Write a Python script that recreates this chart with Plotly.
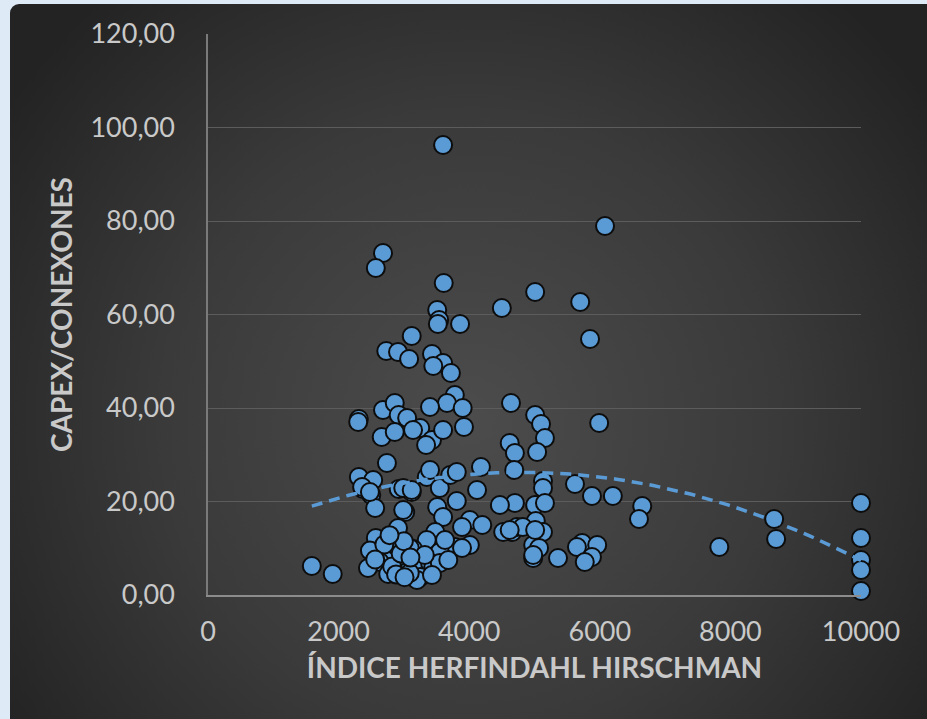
import base64

import numpy as np
import plotly.graph_objects as go

# Índice Herfindahl Hirschman (x) vs CAPEX/conexones (y)
ihh = [
    1590, 1910, 3600, 6080, 2680, 2570, 3610, 3510, 3540, 3520,
    3860, 3120, 2730, 2910, 3080, 3430, 3600, 3450, 3720, 3780,
    3660, 3900, 3400, 2680, 2860, 2920, 3050, 2310, 2660, 2860,
    3250, 3430, 3340, 3600, 3920, 2740, 2310, 2530, 2370, 2500,
    2560, 2920, 3120, 3350, 3400, 3550, 3710, 3810, 4180, 4120,
    3810, 3510, 3020, 2910, 2570, 3600, 4010, 4200, 3890, 3480,
    3350, 3780, 4010, 3890, 3140, 3090, 2790, 3550, 2630, 2450,
    2760, 2940, 3170, 3220, 3400, 3450, 3550, 3140, 3250, 3050,
    3200, 3430, 3090, 2990, 2990, 4500, 5010, 5700, 5850, 4640,
    5010, 5100, 5160, 4620, 4700, 5040, 5990, 4690, 5130, 5130,
    5620, 5880, 6200, 6650, 6600, 4700, 5010, 5160, 4470, 5020,
    5130, 4660, 4730, 4520, 4980, 5070, 4980, 5360, 5730, 5650,
    5960, 5880, 5770, 7830, 8670, 8700, 10000, 10000, 10000, 10000,
    10000, 4820, 5010, 4980, 3140, 2300, 2360, 2480, 3120, 4620,
    3320, 3630, 2860, 3680,
    # partly hidden points in the dense low cluster
    2480, 2700, 2820, 2880, 2950, 3000, 3010, 2560, 2780, 3100,
]
capex = [
    6.20, 4.49, 96.26, 78.93, 73.15, 69.95, 66.74, 60.96, 58.82, 57.97,
    57.97, 55.40, 52.19, 51.98, 50.48, 51.55, 49.62, 48.98, 47.49, 42.78,
    41.07, 40.00, 40.21, 39.57, 41.07, 38.50, 37.86, 37.65, 33.80, 34.87,
    35.72, 33.15, 32.09, 35.29, 35.94, 28.24, 25.24, 24.60, 22.67, 21.39,
    18.61, 22.67, 22.03, 25.24, 26.74, 22.89, 25.67, 26.31, 27.38, 22.46,
    20.11, 18.82, 17.75, 14.33, 12.19, 16.68, 16.04, 14.97, 14.55, 13.48,
    11.76, 10.27, 10.70, 10.05, 9.84, 10.05, 8.56, 9.20, 7.06, 5.78,
    4.49, 5.99, 7.06, 6.84, 6.84, 5.99, 6.84, 3.85, 3.85, 4.92,
    3.21, 4.28, 4.71, 22.89, 18.18, 61.39, 64.81, 62.67, 54.76, 41.07,
    38.50, 36.58, 33.58, 32.51, 30.37, 30.59, 36.79, 26.74, 24.38, 22.89,
    23.74, 21.18, 21.18, 19.04, 16.26, 19.68, 19.25, 19.68, 19.25, 15.83,
    13.48, 13.48, 14.55, 13.48, 10.70, 10.05, 7.91, 7.91, 11.12, 10.27,
    10.70, 8.13, 7.06, 10.27, 16.26, 11.98, 19.68, 12.19, 7.49, 5.35,
    0.86, 14.55, 13.90, 8.56, 35.29, 37.01, 23.10, 22.03, 22.46, 13.90,
    8.56, 11.76, 10.70, 7.49,
    9.50, 10.80, 6.10, 4.40, 8.90, 11.50, 3.80, 7.60, 12.80, 8.00,
]

x_ticks = [0, 2000, 4000, 6000, 8000, 10000]
y_ticks = [0, 20, 40, 60, 80, 100, 120]

W, H = 927, 719
L, R, T, B = 208, 66, 34, 124
pw, ph = W - L - R, H - T - B

BLUE = "#5b9bd5"
TXT = "#c9c9c9"

# dark panel with radial gradient, drawn as an svg behind everything
svg = f"""<svg xmlns="http://www.w3.org/2000/svg" width="{W}" height="{H}" viewBox="0 0 {W} {H}" preserveAspectRatio="none">
<defs><radialGradient id="g" gradientUnits="userSpaceOnUse" cx="470" cy="420" r="560">
<stop offset="0" stop-color="#4c4c4c"/><stop offset="0.55" stop-color="#3a3a3a"/><stop offset="1" stop-color="#232323"/>
</radialGradient></defs>
<rect x="10" y="4" width="{W + 20}" height="{H + 20}" rx="9" ry="9" fill="url(#g)"/>
</svg>"""
bg_src = "data:image/svg+xml;base64," + base64.b64encode(svg.encode()).decode()

# 2nd order polynomial trend line (like Excel's)
coef = np.polyfit(ihh, capex, 2)
tx = np.linspace(min(ihh), max(ihh), 120)
ty = np.polyval(coef, tx)

fig = go.Figure()
fig.add_trace(
    go.Scatter(
        x=ihh,
        y=capex,
        mode="markers",
        marker=dict(size=18, color=BLUE, line=dict(color="#0d0d0d", width=2)),
        cliponaxis=False,
        showlegend=False,
    )
)
fig.add_trace(
    go.Scatter(
        x=tx,
        y=ty,
        mode="lines",
        line=dict(color=BLUE, width=3.5, dash="11px,7px"),
        cliponaxis=False,
        showlegend=False,
    )
)

title_font = dict(family="Lato, Noto Sans, sans-serif", size=28, color=TXT, weight="bold")

fig.update_layout(
    width=W,
    height=H,
    autosize=False,
    margin=dict(l=L, r=R, t=T, b=B, pad=0),
    paper_bgcolor="#dfeaf7",
    plot_bgcolor="rgba(0,0,0,0)",
    separators=",.",
    font=dict(family="Lato, Noto Sans, sans-serif", color=TXT),
    images=[
        dict(
            source=bg_src,
            xref="paper",
            yref="paper",
            x=-L / pw,
            y=1 + T / ph,
            sizex=W / pw,
            sizey=H / ph,
            xanchor="left",
            yanchor="top",
            sizing="stretch",
            layer="below",
        )
    ],
)
fig.update_xaxes(
    range=[0, 10000],
    tickvals=x_ticks,
    tickformat="d",
    showgrid=False,
    zeroline=False,
    showline=True,
    linecolor="#8c8c8c",
    linewidth=2,
    ticks="",
    ticklabelstandoff=12,
    tickfont=dict(size=27, color=TXT),
    title=dict(text="ÍNDICE HERFINDAHL HIRSCHMAN", font=title_font, standoff=12),
)
fig.update_yaxes(
    range=[0, 120],
    tickvals=y_ticks,
    tickformat=".2f",
    showgrid=True,
    gridcolor="#5c5c5c",
    gridwidth=1,
    zeroline=False,
    showline=True,
    linecolor="#7a7a7a",
    linewidth=1.5,
    ticks="",
    ticklabelstandoff=26,
    tickfont=dict(size=27, color=TXT),
    title=dict(text="CAPEX/CONEXONES", font=title_font, standoff=10),
)

fig.write_html(
    "out.html",
    config={"displayModeBar": False},
    post_script="document.body.style.margin='0';document.body.style.overflow='hidden';",
)
